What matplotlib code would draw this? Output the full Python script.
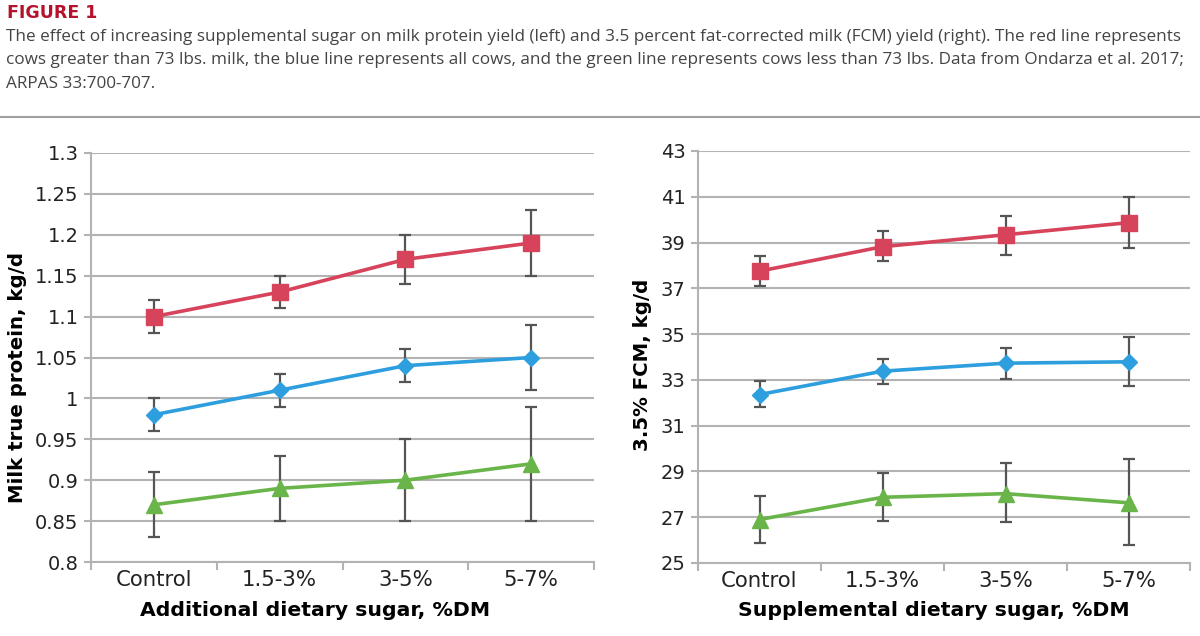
import numpy as np
import matplotlib
matplotlib.use('Agg')
import matplotlib.pyplot as plt
from matplotlib.lines import Line2D

plt.rcParams['font.family'] = ['DejaVu Sans']

categories = ['Control', '1.5-3%', '3-5%', '5-7%']

# left panel: milk true protein, kg/d  (value, lower, upper)
prot_high = [1.10, 1.13, 1.17, 1.19]
prot_high_lo = [1.08, 1.11, 1.14, 1.15]
prot_high_hi = [1.12, 1.15, 1.20, 1.23]
prot_all = [0.98, 1.01, 1.04, 1.05]
prot_all_lo = [0.96, 0.99, 1.02, 1.01]
prot_all_hi = [1.00, 1.03, 1.06, 1.09]
prot_low = [0.87, 0.89, 0.90, 0.92]
prot_low_lo = [0.83, 0.85, 0.85, 0.85]
prot_low_hi = [0.91, 0.93, 0.95, 0.99]

# right panel: 3.5% FCM, kg/d
fcm_high = [37.75, 38.82, 39.34, 39.87]
fcm_high_lo = [37.1, 38.18, 38.45, 38.77]
fcm_high_hi = [38.4, 39.49, 40.16, 41.0]
fcm_all = [32.36, 33.38, 33.73, 33.79]
fcm_all_lo = [31.83, 32.83, 33.03, 32.72]
fcm_all_hi = [32.93, 33.93, 34.39, 34.88]
fcm_low = [26.9, 27.87, 28.03, 27.63]
fcm_low_lo = [25.87, 26.85, 26.78, 25.8]
fcm_low_hi = [27.93, 28.94, 29.39, 29.55]

red = '#d6435a'
blue = '#2e9fde'
green = '#6ab54a'
errc = '#555555'
gridc = '#b3b3b3'

fig = plt.figure(figsize=(12, 6.36), dpi=100)

fig.text(0.006, 1 - 13 / 636, 'FIGURE 1', color='#b5122c', fontsize=12.5, fontweight='bold',
         va='center', ha='left')
caption = ['The effect of increasing supplemental sugar on milk protein yield (left) and 3.5 percent fat-corrected milk (FCM) yield (right). The red line represents',
           'cows greater than 73 lbs. milk, the blue line represents all cows, and the green line represents cows less than 73 lbs. Data from Ondarza et al. 2017;',
           'ARPAS 33:700-707.']
for i, line in enumerate(caption):
    fig.text(0.005, 1 - (37 + i * 23.5) / 636, line, color='#444444', fontsize=12.35,
             va='center', ha='left', family=['Open Sans', 'DejaVu Sans'])
fig.add_artist(Line2D([0, 1], [1 - 117 / 636, 1 - 117 / 636], color='#a0a0a0', lw=1.5))


def panel(ax, series, ylim, yticks, yticklabels, xlabel, ylabel, xlab_x, xlab_y, ylab_x, ylab_y):
    x = np.arange(len(categories))
    for vals, lo, hi, col, mk, ms in series:
        vals = np.array(vals)
        err = [vals - np.array(lo), np.array(hi) - vals]
        ax.errorbar(x, vals, yerr=err, fmt='none', ecolor=errc, elinewidth=1.6,
                    capsize=4, capthick=1.6, zorder=3)
        ax.plot(x, vals, color=col, lw=2.6, marker=mk, markersize=ms,
                markeredgecolor=col, zorder=4)
    ax.set_xlim(-0.5, 3.5)
    ax.set_ylim(*ylim)
    ax.set_yticks(yticks)
    ax.set_yticklabels(yticklabels)
    ax.yaxis.grid(True, color=gridc, lw=1.5)
    ax.set_axisbelow(True)
    ax.set_xticks(np.arange(-0.5, 4.0, 1.0))
    ax.set_xticklabels([])
    ax.set_xticks(x, minor=True)
    ax.set_xticklabels(categories, minor=True)
    ax.tick_params(axis='x', which='major', length=6, color=gridc, width=1.5)
    ax.tick_params(axis='x', which='minor', length=0, pad=6, labelsize=15.3, labelcolor='#222222')
    ax.tick_params(axis='y', length=5, color=gridc, width=1.5, labelsize=14,
                   labelcolor='#222222', pad=4)
    for s in ['top', 'right']:
        ax.spines[s].set_visible(False)
    for s in ['left', 'bottom']:
        ax.spines[s].set_color(gridc)
        ax.spines[s].set_linewidth(1.5)
    ax.set_xlabel(xlabel, fontsize=14.7, fontweight='bold')
    ax.xaxis.set_label_coords(xlab_x, xlab_y)
    ax.set_ylabel(ylabel, fontsize=14.2, fontweight='bold')
    ax.yaxis.set_label_coords(ylab_x, ylab_y)


ax1 = fig.add_axes([91 / 1200, 1 - 562 / 636, 503 / 1200, 409 / 636])
pt = [0.8, 0.85, 0.9, 0.95, 1.0, 1.05, 1.1, 1.15, 1.2, 1.25, 1.3]
panel(ax1,
      [(prot_high, prot_high_lo, prot_high_hi, red, 's', 12),
       (prot_all, prot_all_lo, prot_all_hi, blue, 'D', 8),
       (prot_low, prot_low_lo, prot_low_hi, green, '^', 11)],
      (0.8, 1.3), pt, ['%g' % v for v in pt],
      'Additional dietary sugar, %DM', 'Milk true protein, kg/d',
      0.445, -0.095, -0.127, 0.452)

ax2 = fig.add_axes([698 / 1200, 1 - 563 / 636, 492 / 1200, 412 / 636])
ft = list(range(25, 44, 2))
panel(ax2,
      [(fcm_high, fcm_high_lo, fcm_high_hi, red, 's', 12),
       (fcm_all, fcm_all_lo, fcm_all_hi, blue, 'D', 8),
       (fcm_low, fcm_low_lo, fcm_low_hi, green, '^', 11)],
      (25, 43), ft, [str(v) for v in ft],
      'Supplemental dietary sugar, %DM', '3.5% FCM, kg/d',
      0.48, -0.092, -0.0935, 0.48)

fig.savefig('out.png', dpi=100)
